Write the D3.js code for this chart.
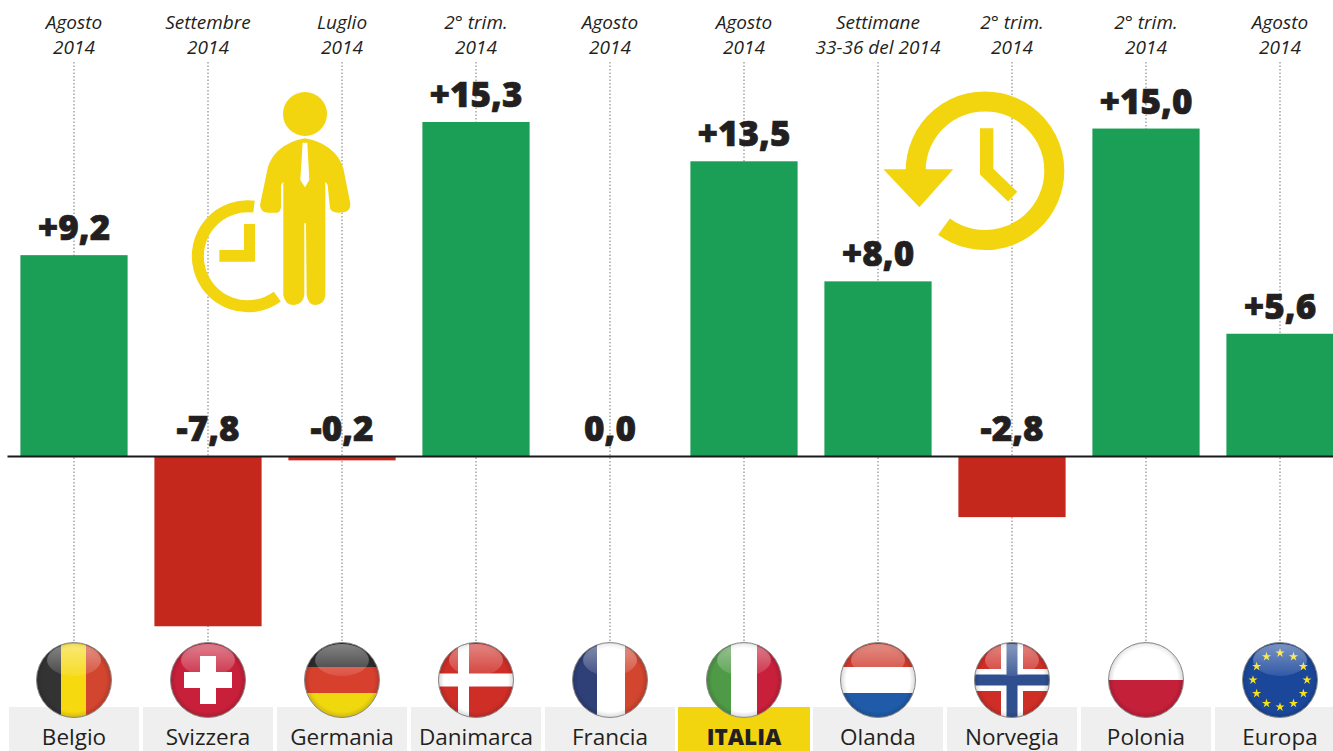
<!DOCTYPE html>
<html lang="it">
<head>
<meta charset="utf-8">
<title>Ore lavorate</title>
<script src="https://d3js.org/d3.v7.min.js"></script>
<style>
html, body { margin: 0; padding: 0; background: #fff; overflow: hidden; }
svg { display: block; }
text { font-family: "Open Sans", "Noto Sans", sans-serif; fill: #231f20; }
</style>
</head>
<body>
<script>
const width = 1333, height = 751;

const countries = ["Belgio", "Svizzera", "Germania", "Danimarca", "Francia", "ITALIA", "Olanda", "Norvegia", "Polonia", "Europa"];
const values = [9.2, -7.8, -0.2, 15.3, 0.0, 13.5, 8.0, -2.8, 15.0, 5.6];
const periodTop = ["Agosto", "Settembre", "Luglio", "2° trim.", "Agosto", "Agosto", "Settimane", "2° trim.", "2° trim.", "Agosto"];
const periodBottom = ["2014", "2014", "2014", "2014", "2014", "2014", "33-36 del 2014", "2014", "2014", "2014"];
const valueLabels = ["+9,2", "-7,8", "-0,2", "+15,3", "0,0", "+13,5", "+8,0", "-2,8", "+15,0", "+5,6"];

const green = "#1b9e55", red = "#c4281c", yellow = "#f2d40f";

// scales: 134px per country, baseline at y=456
const x = d3.scaleBand().domain(countries).range([7, 1347]).paddingInner(0.2).paddingOuter(0.1);
const y = d3.scaleLinear().domain([-8, 16]).range([456 + 8 * 21.83, 456 - 16 * 21.83]);
const cx = c => x(c) + x.bandwidth() / 2;

const svg = d3.select("body").append("svg").attr("width", width).attr("height", height);
const defs = svg.append("defs");

// dotted guide lines
svg.selectAll(".guide").data(countries).enter().append("line")
    .attr("x1", cx).attr("x2", cx).attr("y1", 62).attr("y2", 642)
    .attr("stroke", "#777").attr("stroke-width", 1).attr("stroke-dasharray", "1.5 2");

// bars
svg.selectAll(".bar").data(countries).enter().append("rect")
    .attr("x", c => x(c))
    .attr("y", (c, i) => y(Math.max(values[i], 0)))
    .attr("width", x.bandwidth())
    .attr("height", (c, i) => Math.abs(y(values[i]) - y(0)))
    .attr("fill", (c, i) => values[i] >= 0 ? green : red);

// baseline
svg.append("g")
    .attr("transform", "translate(0," + y(0) + ")")
    .call(d3.axisBottom(x).tickSize(0).tickFormat(""))
    .call(g => g.select(".domain").attr("stroke", "#1a1a1a").attr("stroke-width", 2));

// value labels
svg.selectAll(".val").data(countries).enter().append("text")
    .attr("x", cx)
    .attr("y", (c, i) => y(Math.max(values[i], 0)) - 15)
    .attr("text-anchor", "middle")
    .attr("font-size", 35)
    .attr("font-weight", 800)
    .attr("stroke", "#231f20")
    .attr("stroke-width", 0.7)
    .text((c, i) => valueLabels[i]);

// period labels on top
svg.selectAll(".p1").data(countries).enter().append("text")
    .attr("x", cx).attr("y", 29)
    .attr("text-anchor", "middle").attr("font-size", 19).attr("font-style", "italic")
    .text((c, i) => periodTop[i]);
svg.selectAll(".p2").data(countries).enter().append("text")
    .attr("x", cx).attr("y", 54)
    .attr("text-anchor", "middle").attr("font-size", 19).attr("font-style", "italic")
    .text((c, i) => periodBottom[i]);

// country boxes
svg.selectAll(".box").data(countries).enter().append("rect")
    .attr("x", c => cx(c) - (c === "ITALIA" ? 66 : 65))
    .attr("y", 707)
    .attr("width", c => c === "ITALIA" ? 132 : 130)
    .attr("height", 44)
    .attr("fill", c => c === "ITALIA" ? yellow : "#efefef");

svg.selectAll(".name").data(countries).enter().append("text")
    .attr("x", cx).attr("y", 745)
    .attr("text-anchor", "middle")
    .attr("font-size", 22.5)
    .attr("font-weight", c => c === "ITALIA" ? 800 : 400)
    .text(c => c);

// flags, drawn in a -38..38 box around the centre
const r = 37.5;
const gloss = defs.append("linearGradient").attr("id", "gloss").attr("x1", 0).attr("x2", 0).attr("y1", 0).attr("y2", 1);
gloss.append("stop").attr("offset", "0%").attr("stop-color", "#fff").attr("stop-opacity", 0.42);
gloss.append("stop").attr("offset", "100%").attr("stop-color", "#fff").attr("stop-opacity", 0.1);
const shade = defs.append("radialGradient").attr("id", "shade");
shade.append("stop").attr("offset", "85%").attr("stop-color", "#000").attr("stop-opacity", 0);
shade.append("stop").attr("offset", "100%").attr("stop-color", "#000").attr("stop-opacity", 0.15);
defs.append("clipPath").attr("id", "disc").append("circle").attr("r", r);

const rect = (g, x0, y0, w, h, fill) =>
    g.append("rect").attr("x", x0).attr("y", y0).attr("width", w).attr("height", h).attr("fill", fill);

function vStripes(g, colors, widths) {
    let pos = -38;
    colors.forEach((col, i) => { rect(g, pos, -38, widths[i], 76, col); pos += widths[i]; });
}
function hStripes(g, colors, heights) {
    let pos = -38;
    colors.forEach((col, i) => { rect(g, -38, pos, 76, heights[i], col); pos += heights[i]; });
}

const flagDraw = {
    "Belgio": g => vStripes(g, ["#333333", "#f6d90f", "#d2452f"], [25, 25, 26]),
    "Svizzera": g => { rect(g, -38, -38, 76, 76, "#c8203a"); rect(g, -8, -24, 16, 48, "#fff"); rect(g, -24, -8, 48, 16, "#fff"); },
    "Germania": g => hStripes(g, ["#2b2b2b", "#d8402e", "#f0d80f"], [25, 26, 25]),
    "Danimarca": g => { rect(g, -38, -38, 76, 76, "#cf2e27"); rect(g, -18, -38, 11, 76, "#fff"); rect(g, -38, -6.5, 76, 13, "#fff"); },
    "Francia": g => vStripes(g, ["#2f3f78", "#ffffff", "#d2452f"], [25, 28, 23]),
    "ITALIA": g => vStripes(g, ["#4f9a46", "#ffffff", "#c8203a"], [25, 26, 25]),
    "Olanda": g => hStripes(g, ["#cf3a2c", "#ffffff", "#1f5ba8"], [25, 26, 25]),
    "Norvegia": g => {
        rect(g, -38, -38, 76, 76, "#cf2e27");
        rect(g, -11, -38, 22, 76, "#fff"); rect(g, -38, -11, 76, 22, "#fff");
        rect(g, -5.5, -38, 11, 76, "#2f4f8f"); rect(g, -38, -5.5, 76, 11, "#2f4f8f");
    },
    "Polonia": g => hStripes(g, ["#ffffff", "#c4203a"], [38, 38]),
    "Europa": g => {
        rect(g, -38, -38, 76, 76, "#1b479b");
        d3.range(12).forEach(k => {
            const a = k * Math.PI / 6;
            g.append("path").attr("d", d3.symbol(d3.symbolStar, 26)())
                .attr("transform", "translate(" + 27 * Math.sin(a) + "," + (-27 * Math.cos(a)) + ")")
                .attr("fill", "#f6e11a");
        });
    }
};

const flags = svg.selectAll(".flag").data(countries).enter().append("g")
    .attr("transform", c => "translate(" + cx(c) + ",680)");
flags.each(function (c) {
    const g = d3.select(this);
    const inner = g.append("g").attr("clip-path", "url(#disc)");
    flagDraw[c](inner);
    inner.append("circle").attr("r", r).attr("fill", "url(#shade)");
    inner.append("ellipse").attr("cy", -20).attr("rx", 27).attr("ry", 16).attr("fill", "url(#gloss)");
    g.append("circle").attr("r", r).attr("fill", "none").attr("stroke", "#888").attr("stroke-width", 1);
});

// man with clock icon, traced in crop coords (3x)
const man = svg.append("g").attr("transform", "translate(170,80) scale(0.3333)");
man.append("circle").attr("cx", 405).attr("cy", 102).attr("r", 66).attr("fill", yellow);
man.append("path").attr("fill", yellow)
    .attr("d", "M405,175 C350,185 305,215 292,270 L270,375 Q272,398 295,398 L322,398 Q332,396 333,380 L333,315 L340,305 L340,645 Q345,675 372,675 Q400,672 403,645 L403,430 L408,430 L410,645 Q414,675 438,675 Q464,672 466,645 L466,305 L473,315 L480,385 Q485,398 505,398 L525,396 Q545,390 540,365 L520,265 C505,215 460,185 405,175 Z");
man.append("path").attr("fill", "#fff")
    .attr("d", "M398,188 L412,188 L418,300 L405,322 L391,300 Z");
man.append("path").attr("fill", "none").attr("stroke", yellow).attr("stroke-width", 36)
    .attr("d", "M252,380 A150,150 0 1 0 322,650");
man.append("path").attr("fill", yellow).attr("d", "M222,432 L255,432 L255,545 L148,545 L148,510 L222,510 Z");

// history clock icon
const clock = svg.append("g").attr("transform", "translate(870,80) scale(0.3333)");
clock.append("path").attr("fill", "none").attr("stroke", yellow).attr("stroke-width", 60)
    .attr("d", "M222,440 A208,208 0 1 0 137,275");
clock.append("path").attr("fill", yellow).attr("d", "M40,268 L250,268 L148,382 Z");
clock.append("path").attr("fill", "none").attr("stroke", yellow).attr("stroke-width", 40)
    .attr("d", "M350,145 L350,275 L428,350");
</script>
</body>
</html>
